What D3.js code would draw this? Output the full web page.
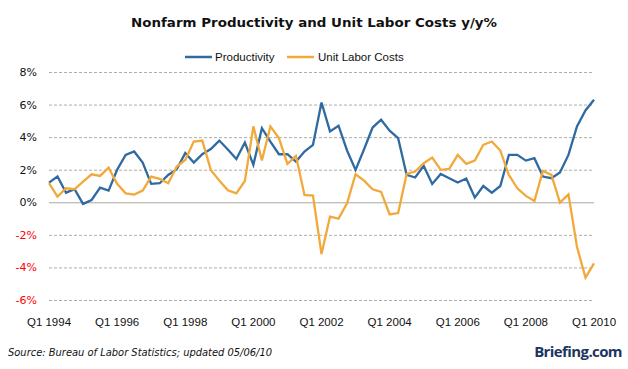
<!DOCTYPE html>
<html>
<head>
<meta charset="utf-8">
<script src="https://cdn.jsdelivr.net/npm/d3@7"></script>
<style>
  body { margin: 0; background: #fff; }
  svg { display: block; }
</style>
</head>
<body>
<svg id="chart" width="628" height="369"></svg>
<script>
// Quarterly y/y % change, Q1 1994 .. Q1 2010
const startYear = 1994;
const productivity = [
  1.21, 1.58, 0.59, 0.80, -0.10, 0.14, 0.90, 0.72,
  2.00, 2.91, 3.12, 2.44, 1.13, 1.17, 1.68, 2.03,
  3.02, 2.44, 2.95, 3.27, 3.79, 3.24, 2.66, 3.67,
  2.30, 4.55, 3.73, 2.95, 2.95, 2.50, 3.12, 3.53,
  6.13, 4.35, 4.70, 3.18, 1.99, 3.26, 4.59, 5.07,
  4.40, 3.94, 1.68, 1.52, 2.24, 1.13, 1.74, 1.48,
  1.21, 1.46, 0.29, 1.00, 0.59, 1.00, 2.91, 2.91,
  2.56, 2.71, 1.58, 1.48, 1.83, 2.91, 4.66, 5.64,
  6.30
];
const unitLaborCosts = [
  1.17, 0.35, 0.86, 0.80, 1.27, 1.72, 1.62, 2.13,
  1.13, 0.55, 0.47, 0.72, 1.58, 1.44, 1.17, 2.19,
  2.60, 3.73, 3.79, 1.99, 1.33, 0.74, 0.55, 1.31,
  4.66, 2.56, 4.66, 3.94, 2.36, 2.85, 0.45, 0.41,
  -3.18, -0.88, -1.00, -0.06, 1.72, 1.33, 0.80, 0.64,
  -0.75, -0.66, 1.74, 1.89, 2.40, 2.75, 1.99, 2.05,
  2.91, 2.36, 2.56, 3.53, 3.73, 3.18, 1.68, 0.86,
  0.39, 0.08, 1.93, 1.68, -0.02, 0.49, -2.73, -4.62,
  -3.75
];
const yTicks = [8, 6, 4, 2, 0, -2, -4, -6];
const xTickEvery = 8; // every 2 years

const series = [
  { name: 'Productivity', values: productivity, color: '#2f6aa0' },
  { name: 'Unit Labor Costs', values: unitLaborCosts, color: '#f2a93b' }
];

const quarters = productivity.map((_, i) =>
  `Q${(i % 4) + 1} ${startYear + Math.floor(i / 4)}`);

const svg = d3.select('#chart');
const plotLeft = 49, plotRight = 594, plotTop = 72, plotBottom = 300;

const x = d3.scalePoint().domain(quarters).range([plotLeft, plotRight]);
const y = d3.scaleLinear().domain([-6, 8]).range([plotBottom, plotTop]);

// Title
svg.append('text')
  .attr('x', 314).attr('y', 27)
  .attr('text-anchor', 'middle')
  .attr('font-family', 'DejaVu Sans, sans-serif')
  .attr('font-weight', 'bold')
  .attr('font-size', 13)
  .attr('textLength', 366)
  .attr('lengthAdjust', 'spacingAndGlyphs')
  .attr('fill', '#111')
  .text('Nonfarm Productivity  and Unit Labor Costs y/y%');

// Legend
const legendPos = [{ x: 185, tx: 215 }, { x: 287, tx: 318 }];
const legend = svg.append('g');
series.forEach((s, i) => {
  const p = legendPos[i];
  legend.append('line')
    .attr('x1', p.x).attr('x2', p.x + 27)
    .attr('y1', 57).attr('y2', 57)
    .attr('stroke', s.color).attr('stroke-width', 2.5);
  legend.append('text')
    .attr('x', p.tx).attr('y', 61)
    .attr('font-family', 'Liberation Sans, Arial, sans-serif')
    .attr('font-size', 11.5)
    .attr('fill', '#111')
    .text(s.name);
});

// Grid lines
svg.append('g')
  .selectAll('line')
  .data(yTicks)
  .enter()
  .append('line')
  .attr('x1', plotLeft).attr('x2', plotRight)
  .attr('y1', d => y(d) + 0.5).attr('y2', d => y(d) + 0.5)
  .attr('stroke', d => d === 0 ? '#a8a8a4' : '#b0ada4')
  .attr('stroke-width', 1)
  .attr('stroke-dasharray', d => d === 0 ? null : '3,2');

// Y axis labels
svg.append('g')
  .selectAll('text')
  .data(yTicks)
  .enter()
  .append('text')
  .attr('x', 37).attr('y', d => y(d) + 4)
  .attr('text-anchor', 'end')
  .attr('font-family', 'DejaVu Sans, sans-serif')
  .attr('font-size', 11)
  .attr('fill', d => d < 0 ? '#ff0000' : '#111')
  .text(d => d + '%');

// X axis labels
svg.append('g')
  .selectAll('text')
  .data(quarters.filter((_, i) => i % xTickEvery === 0))
  .enter()
  .append('text')
  .attr('x', d => x(d)).attr('y', 326)
  .attr('text-anchor', 'middle')
  .attr('font-family', 'Liberation Sans, Arial, sans-serif')
  .attr('font-size', 11.5)
  .attr('fill', '#111')
  .text(d => d);

// Lines
const line = d3.line()
  .x((d, i) => x(quarters[i]))
  .y(d => y(d));

svg.append('g')
  .selectAll('path')
  .data(series)
  .enter()
  .append('path')
  .attr('d', d => line(d.values))
  .attr('fill', 'none')
  .attr('stroke', d => d.color)
  .attr('stroke-width', 2.3)
  .attr('stroke-linejoin', 'miter');

// Footer
svg.append('text')
  .attr('x', 8).attr('y', 356)
  .attr('font-family', 'DejaVu Sans, sans-serif')
  .attr('font-style', 'italic')
  .attr('font-size', 10)
  .attr('textLength', 264)
  .attr('lengthAdjust', 'spacingAndGlyphs')
  .attr('fill', '#111')
  .text('Source: Bureau of Labor Statistics; updated 05/06/10');

svg.append('text')
  .attr('x', 622).attr('y', 357)
  .attr('text-anchor', 'end')
  .attr('font-family', 'Open Sans, DejaVu Sans, sans-serif')
  .attr('font-weight', 'bold')
  .attr('font-size', 15)
  .attr('letter-spacing', -0.6)
  .attr('fill', '#1e3560')
  .text('Briefing.com');
</script>
</body>
</html>
